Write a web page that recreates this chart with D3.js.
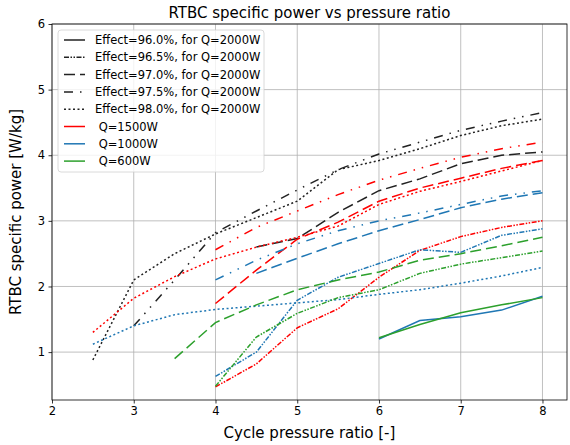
<!DOCTYPE html>
<html>
<head>
<meta charset="utf-8">
<script src="https://cdn.jsdelivr.net/npm/d3@7"></script>
<style>
  body { margin: 0; background: white; }
  svg { font-family: "DejaVu Sans", sans-serif; }
</style>
</head>
<body>
<div id="chart"></div>
<script>
// pressure ratios sampled
const pressure = [2.5, 3, 3.5, 4, 4.5, 5, 5.5, 6, 6.5, 7, 7.5, 8];

// Q = 2000 W (black)
const black98  = [0.88, 2.1, 2.5, 2.8, 3.05, 3.3, 3.78, 3.92, 4.1, 4.3, 4.45, 4.55];
const black975 = [null, 1.4, 2.1, 2.82, 3.15, 3.47, 3.78, 4.02, 4.2, 4.38, 4.52, 4.65];
const black97  = [null, null, null, null, 2.6, 2.73, 3.13, 3.46, 3.64, 3.87, 4.0, 4.05];
// Q = 1500 W (red)
const red98  = [1.3, 1.82, 2.15, 2.42, 2.6, 2.75, 2.92, 3.25, 3.45, 3.6, 3.76, 3.92];
const red975 = [null, null, null, 2.56, 2.9, 3.15, 3.4, 3.62, 3.8, 3.97, 4.1, 4.2];
const red97  = [null, null, null, 1.74, 2.25, 2.72, 2.98, 3.3, 3.5, 3.65, 3.8, 3.92];
const red965 = [null, null, null, 0.47, 0.82, 1.37, 1.66, 2.14, 2.55, 2.76, 2.9, 3.0];
// Q = 1000 W (blue)
const blue98  = [1.12, 1.4, 1.57, 1.65, 1.7, 1.75, 1.8, 1.88, 1.95, 2.05, 2.16, 2.29];
const blue975 = [null, null, null, 2.1, 2.4, 2.65, 2.85, 3.0, 3.12, 3.25, 3.38, 3.46];
const blue97  = [null, null, null, null, 2.2, 2.43, 2.65, 2.85, 3.02, 3.2, 3.33, 3.43];
const blue965 = [null, null, null, 0.63, 1.0, 1.79, 2.14, 2.35, 2.56, 2.52, 2.78, 2.88];
const blue96  = [null, null, null, null, null, null, null, 1.2, 1.48, 1.54, 1.64, 1.85];
// Q = 600 W (green)
const green97  = [null, null, 0.9, 1.45, 1.72, 1.95, 2.1, 2.22, 2.4, 2.5, 2.62, 2.75];
const green965 = [null, null, null, 0.48, 1.23, 1.59, 1.83, 1.95, 2.2, 2.34, 2.44, 2.54];
const green96  = [null, null, null, null, null, null, null, 1.22, 1.42, 1.6, 1.72, 1.83];

const xTicks = [2, 3, 4, 5, 6, 7, 8];
const yTicks = [1, 2, 3, 4, 5, 6];

const effectLabels = ["Effect=96.0%, for Q=2000W", "Effect=96.5%, for Q=2000W",
    "Effect=97.0%, for Q=2000W", "Effect=97.5%, for Q=2000W", "Effect=98.0%, for Q=2000W"];
const qLabels = [" Q=1500W", " Q=1000W", " Q=600W"];

// line styles per efficiency
const dashes = {
    "96": null,
    "96.5": "5,1.5,1.5,1.5,1.5,1.5",
    "97": "11,5",
    "97.5": "9,7,1.5,7,1.5,7",
    "98": "2,2.5"
};
const colors = { black: "#222", red: "#ff0000", blue: "#1f77b4", green: "#2ca02c" };

const series = [
    { y: black98, c: "black", e: "98" },
    { y: black975, c: "black", e: "97.5" },
    { y: black97, c: "black", e: "97" },
    { y: red98, c: "red", e: "98" },
    { y: red975, c: "red", e: "97.5" },
    { y: red97, c: "red", e: "97" },
    { y: red965, c: "red", e: "96.5" },
    { y: blue98, c: "blue", e: "98" },
    { y: blue975, c: "blue", e: "97.5" },
    { y: blue97, c: "blue", e: "97" },
    { y: blue965, c: "blue", e: "96.5" },
    { y: blue96, c: "blue", e: "96" },
    { y: green97, c: "green", e: "97" },
    { y: green965, c: "green", e: "96.5" },
    { y: green96, c: "green", e: "96" }
];

const margin = { top: 24, right: 3, bottom: 45, left: 52 };
const W = 570, H = 445;
const width = W - margin.left - margin.right;
const height = H - margin.top - margin.bottom;

const svg = d3.select("#chart").append("svg")
    .attr("width", W)
    .attr("height", H);

const g = svg.append("g")
    .attr("transform", "translate(" + margin.left + "," + margin.top + ")");

const x = d3.scaleLinear().domain([2, 8.3]).range([0, width]);
const y = d3.scaleLinear().domain([0.27, 6]).range([height, 0]);

// grid
g.append("g").selectAll("line").data(xTicks).enter().append("line")
    .attr("x1", d => x(d)).attr("x2", d => x(d))
    .attr("y1", 0).attr("y2", height)
    .attr("stroke", "#b0b0b0").attr("stroke-width", 0.8);
g.append("g").selectAll("line").data(yTicks).enter().append("line")
    .attr("x1", 0).attr("x2", width)
    .attr("y1", d => y(d)).attr("y2", d => y(d))
    .attr("stroke", "#b0b0b0").attr("stroke-width", 0.8);

// lines
const line = d3.line()
    .defined(d => d[1] !== null)
    .x(d => x(d[0]))
    .y(d => y(d[1]));

g.append("g").selectAll("path").data(series).enter().append("path")
    .attr("d", d => line(pressure.map((p, i) => [p, d.y[i]])))
    .attr("fill", "none")
    .attr("stroke", d => colors[d.c])
    .attr("stroke-width", 1.5)
    .attr("stroke-dasharray", d => dashes[d.e]);

// axes
const xAxis = g.append("g")
    .attr("transform", "translate(0," + height + ")")
    .call(d3.axisBottom(x).tickValues(xTicks).tickSize(3.5).tickPadding(3.5).tickFormat(d3.format("d")));
const yAxis = g.append("g")
    .call(d3.axisLeft(y).tickValues(yTicks).tickSize(3.5).tickPadding(3.5).tickFormat(d3.format("d")));
[xAxis, yAxis].forEach(a => {
    a.select(".domain").remove();
    a.selectAll("text").attr("font-size", 11.5).attr("fill", "#000").attr("font-family", "DejaVu Sans");
    a.selectAll("line").attr("stroke", "#000").attr("stroke-width", 0.8);
});

// frame
g.append("rect")
    .attr("width", width).attr("height", height)
    .attr("fill", "none").attr("stroke", "#000").attr("stroke-width", 0.8);

// labels
svg.append("text")
    .attr("x", margin.left + width / 2).attr("y", 18)
    .attr("text-anchor", "middle").attr("font-size", 15)
    .text("RTBC specific power vs pressure ratio");
svg.append("text")
    .attr("x", margin.left + width / 2).attr("y", 438)
    .attr("text-anchor", "middle").attr("font-size", 15)
    .text("Cycle pressure ratio [-]");
svg.append("text")
    .attr("transform", "translate(21," + (margin.top + height / 2) + ") rotate(-90)")
    .attr("text-anchor", "middle").attr("font-size", 15)
    .text("RTBC specific power [W/kg]");

// legend
const legendItems = [
    { label: effectLabels[0], c: "black", e: "96" },
    { label: effectLabels[1], c: "black", e: "96.5" },
    { label: effectLabels[2], c: "black", e: "97" },
    { label: effectLabels[3], c: "black", e: "97.5" },
    { label: effectLabels[4], c: "black", e: "98" },
    { label: qLabels[0], c: "red", e: "96" },
    { label: qLabels[1], c: "blue", e: "96" },
    { label: qLabels[2], c: "green", e: "96" }
];
const legend = g.append("g").attr("transform", "translate(6,6)");
legend.append("rect")
    .attr("width", 206).attr("height", 142).attr("rx", 3)
    .attr("fill", "white").attr("fill-opacity", 0.8)
    .attr("stroke", "#d0d0d0").attr("stroke-width", 0.8);
const rows = legend.selectAll("g.row").data(legendItems).enter().append("g")
    .attr("transform", (d, i) => "translate(0," + (10 + i * 17.3) + ")");
rows.append("line")
    .attr("x1", 6).attr("x2", 27)
    .attr("stroke", d => colors[d.c]).attr("stroke-width", 1.5)
    .attr("stroke-dasharray", d => dashes[d.e]);
rows.append("text")
    .attr("x", 37).attr("y", 4)
    .attr("font-size", 11.5).attr("xml:space", "preserve")
    .style("white-space", "pre")
    .text(d => d.label);
</script>
</body>
</html>
